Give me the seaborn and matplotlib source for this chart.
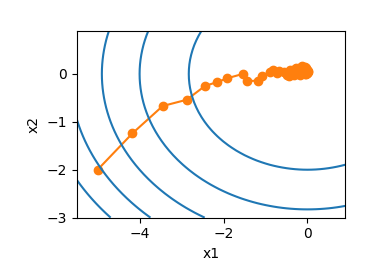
import numpy as np
import pandas as pd
import matplotlib
matplotlib.use("Agg")
import matplotlib.pyplot as plt
import seaborn as sns

# SGD trace
x1_trace = [-5.00, -4.17, -3.45, -2.88, -2.44, -2.15, -1.91, -1.54, -1.43, -1.19,
            -1.09, -0.89, -0.82, -0.67, -0.72, -0.55, -0.49, -0.41, -0.35, -0.30,
            -0.22, -0.14, -0.10, -0.20, -0.28, -0.38, -0.45, -0.33, -0.25, -0.15,
            -0.08, -0.12, -0.05, -0.02, -0.18, -0.26, -0.12, -0.06, 0.00, -0.03,
            -0.10, -0.04, 0.02, -0.08, -0.15, -0.05, 0.01, -0.03, -0.06, 0.00, -0.02]
x2_trace = [-2.00, -1.24, -0.67, -0.54, -0.25, -0.17, -0.09, 0.00, -0.15, -0.14,
            -0.04, 0.05, 0.08, 0.07, 0.02, 0.04, -0.02, 0.08, 0.00, 0.10,
            0.03, 0.17, 0.08, 0.05, 0.12, 0.06, -0.04, -0.03, 0.09, 0.14,
            0.12, 0.04, 0.10, 0.02, -0.02, 0.03, 0.06, 0.15, 0.08, 0.00,
            0.01, 0.12, 0.05, 0.09, 0.04, 0.00, 0.07, 0.03, 0.10, 0.02, 0.04]

# contour grid and levels
x1_grid = np.arange(-5.5, 1.0, 0.1)
x2_grid = np.arange(-3.0, 1.0, 0.1)
contour_levels = [8, 16, 24, 32, 40]

fig = plt.figure(figsize=(3.91, 2.68), dpi=100)
ax = fig.add_axes([0.196, 0.188, 0.687, 0.697])

df = pd.DataFrame({"x1": x1_trace, "x2": x2_trace, "step": np.arange(len(x1_trace))})
sns.lineplot(data=df, x="x1", y="x2", sort=False, estimator=None, ax=ax,
             color="#ff7f0e", marker="o", markersize=6,
             markeredgecolor="#ff7f0e", markeredgewidth=1, linewidth=1.5)

X1, X2 = np.meshgrid(x1_grid, x2_grid)
ax.contour(X1, X2, X1 ** 2 + 2 * X2 ** 2, levels=contour_levels, colors="#1f77b4",
           linewidths=1.5)

ax.set_xlim(x1_grid[0], x1_grid[-1])
ax.set_ylim(x2_grid[0], x2_grid[-1])
ax.set_xticks([-4, -2, 0])
ax.set_yticks([-3, -2, -1, 0])
ax.set_xlabel("x1")
ax.set_ylabel("x2")

fig.savefig("out.png", dpi=100)
